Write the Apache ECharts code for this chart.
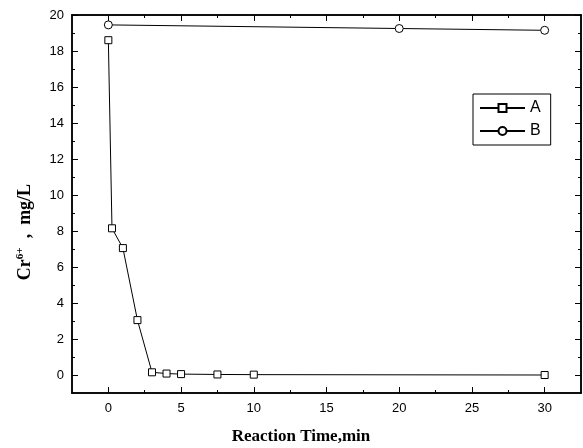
<!DOCTYPE html>
<html>
<head>
<meta charset="utf-8">
<script src="https://cdn.jsdelivr.net/npm/echarts@6/dist/echarts.min.js"></script>
<style>
  html, body { margin: 0; padding: 0; background: #fff; }
  #main { width: 583px; height: 448px; }
</style>
</head>
<body>
<div id="main"></div>
<script>
// data
var timeA = [0, 0.25, 1, 2, 3, 4, 5, 7.5, 10, 30];
var crA = [18.6, 8.15, 7.05, 3.05, 0.15, 0.08, 0.05, 0.03, 0.02, 0.0];
var timeB = [0, 20, 30];
var crB = [19.45, 19.25, 19.15];

var xMajor = [0, 5, 10, 15, 20, 25, 30];
var xMinor = [2.5, 7.5, 12.5, 17.5, 22.5, 27.5];
var yMajor = [0, 2, 4, 6, 8, 10, 12, 14, 16, 18, 20];
var yMinor = [1, 3, 5, 7, 9, 11, 13, 15, 17, 19];

function pairs(xs, ys) {
    var out = [];
    for (var i = 0; i < xs.length; i++) out.push([xs[i], ys[i]]);
    return out;
}

var sans = 'Liberation Sans';
var black = '#000';

// frame axes, ticks pointing inward
function xAx(pos, ticks, len, labels) {
    return {
        type: 'value', position: pos, min: -2.5, max: 32.5,
        axisLine: {show: true, onZero: false, lineStyle: {color: black, width: 1.5}},
        axisTick: {show: true, inside: true, length: len, customValues: ticks, lineStyle: {color: black, width: 1}},
        axisLabel: labels ? {show: true, customValues: labels, color: black, fontFamily: sans, fontSize: 13, margin: 9} : {show: false},
        splitLine: {show: false}
    };
}
function yAx(pos, ticks, len, labels) {
    return {
        type: 'value', position: pos, min: -1, max: 20,
        axisLine: {show: true, onZero: false, lineStyle: {color: black, width: 1.5}},
        axisTick: {show: true, inside: true, length: len, customValues: ticks, lineStyle: {color: black, width: 1}},
        axisLabel: labels ? {show: true, customValues: labels, color: black, fontFamily: sans, fontSize: 13, margin: 8} : {show: false},
        splitLine: {show: false}
    };
}

var myChart = echarts.init(document.getElementById('main'));
myChart.setOption({
    animation: false,
    backgroundColor: '#fff',
    grid: {left: 72, right: 2, top: 15, bottom: 55},
    xAxis: [
        xAx('bottom', xMajor, 6, xMajor),
        xAx('bottom', xMinor, 3),
        xAx('top', xMajor, 6),
        xAx('top', xMinor, 3)
    ],
    yAxis: [
        yAx('left', yMajor, 6, yMajor),
        yAx('left', yMinor, 3),
        yAx('right', yMajor, 6),
        yAx('right', yMinor, 3)
    ],
    legend: {
        orient: 'vertical',
        left: 473, top: 94,
        padding: [6, 10, 6, 6],
        itemWidth: 45, itemHeight: 10, itemGap: 7,
        borderColor: black, borderWidth: 1,
        textStyle: {color: black, fontFamily: sans, fontSize: 16, lineHeight: 14},
        data: ['A', 'B']
    },
    series: [
        {
            name: 'A', type: 'line', data: pairs(timeA, crA),
            symbol: 'rect', symbolSize: 7,
            lineStyle: {color: black, width: 1},
            itemStyle: {color: '#fff', borderColor: black, borderWidth: 1}
        },
        {
            name: 'B', type: 'line', data: pairs(timeB, crB),
            symbol: 'circle', symbolSize: 8,
            lineStyle: {color: black, width: 1},
            itemStyle: {color: '#fff', borderColor: black, borderWidth: 1}
        }
    ],
    graphic: [
        {
            type: 'text', x: 301, y: 437,
            style: {
                text: 'Reaction Time,min', fill: black,
                font: 'bold 17px "Liberation Serif"',
                align: 'center', verticalAlign: 'middle'
            }
        },
        {
            type: 'text', x: 25, y: 232, rotation: Math.PI / 2,
            style: {
                text: '{b|Cr}{s|6+}{b|  ,  mg/L}',
                align: 'center', verticalAlign: 'middle', fill: black,
                rich: {
                    b: {font: 'bold 18px "Liberation Serif"', fill: black, height: 22},
                    s: {font: 'bold 11px "Liberation Serif"', fill: black, verticalAlign: 'top', height: 22, padding: [0, 0, 10, 0]}
                }
            }
        }
    ]
});
</script>
</body>
</html>
